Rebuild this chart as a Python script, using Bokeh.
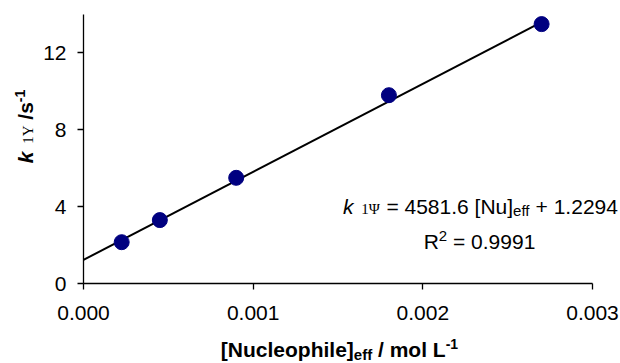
from bokeh.plotting import figure
from bokeh.models import Label, FixedTicker, Range1d
from bokeh.embed import file_html
from bokeh.resources import INLINE
import math

# ---- data ----
conc = [0.000225, 0.00045, 0.0009, 0.0018, 0.0027]
k_obs = [2.15, 3.3, 5.5, 9.8, 13.5]
slope = 4581.6
intercept = 1.2294
fit_x = [0.0, 0.0027]
fit_y = [intercept + slope * v for v in fit_x]
x_ticks = [0.0, 0.001, 0.002, 0.003]
x_tick_labels = ["0.000", "0.001", "0.002", "0.003"]
y_ticks = [0, 4, 8, 12]
x_lim = (0.0, 0.003)
y_lim = (0.0, 14.0)

# ---- layout (pixels) ----
W, H = 620, 363
AX_LEFT, AX_RIGHT, AX_TOP, AX_BOTTOM = 83, 592, 14, 283

SANS = "Liberation Sans"
SERIF = "Liberation Serif"

W_REG = {' ': 278, '.': 278, '=': 584, '+': 584, '[': 278, ']': 278, 'N': 722, 'u': 556,
         'e': 556, 'f': 278, 'R': 722, 'k': 500, '-': 333, '/': 278, 's': 500, 'L': 556,
         'm': 833, 'o': 556, 'l': 222, 'i': 222, 'c': 500, 'p': 556, 'h': 556}
W_BOLD = {' ': 278, '[': 333, ']': 333, 'N': 722, 'u': 611, 'c': 556, 'l': 278, 'e': 556,
          'o': 611, 'p': 611, 'h': 611, 'i': 278, 'f': 333, '/': 278, 'm': 889, 'L': 611,
          's': 556, 'k': 556, '-': 333}
W_SERIF = {'1': 500, 'Y': 722, 'Ψ': 780, ' ': 250}


def width(text, font, style, size):
    tot = 0
    for ch in text:
        if font == SERIF:
            w = W_SERIF.get(ch, 600)
        elif 'bold' in style:
            w = 556 if ch.isdigit() else W_BOLD.get(ch, 600)
        else:
            w = 556 if ch.isdigit() else W_REG.get(ch, 600)
        tot += w
    return tot * size / 1000.0


def rich(p, segs, cx, y0, angle=0.0):
    """Place a run of differently styled text pieces, centred on cx (along the run)."""
    items = []
    adv = 0.0
    for text, font, style, size, dy in segs:
        lead = len(text) - len(text.lstrip(' '))
        trail = len(text) - len(text.rstrip(' '))
        adv += width(' ' * lead, font, style, size)
        core = text.strip(' ')
        if core:
            items.append((adv, core, font, style, size, dy + 0.38 * size))
        adv += width(core, font, style, size) + width(' ' * trail, font, style, size)
    start = -adv / 2.0
    ca, sa = math.cos(angle), math.sin(angle)
    bx, by = (cx, y0) if angle == 0 else (y0, cx)
    for a, text, font, style, size, dy in items:
        along = start + a
        x = bx + ca * along - sa * dy
        y = by + sa * along + ca * dy
        p.add_layout(Label(x=x, y=y, x_units="screen", y_units="screen", text=text,
                           text_font=font, text_font_style=style, text_font_size=f"{size}px",
                           text_color="black", text_align="left", text_baseline="alphabetic",
                           angle=angle))


# ranges chosen so the frame fills the canvas and the axes sit at the reference pixels
xs = (x_lim[1] - x_lim[0]) / (AX_RIGHT - AX_LEFT)
ys = (y_lim[1] - y_lim[0]) / (AX_BOTTOM - AX_TOP)
x_range = Range1d(x_lim[0] - AX_LEFT * xs, x_lim[1] + (W - AX_RIGHT) * xs)
y_range = Range1d(y_lim[0] - (H - AX_BOTTOM) * ys, y_lim[1] + AX_TOP * ys)

p = figure(width=W, height=H, output_backend="svg", toolbar_location=None,
           x_range=x_range, y_range=y_range, min_border=0)
p.outline_line_color = None
p.grid.grid_line_color = None
p.background_fill_color = "white"
p.border_fill_color = "white"

p.xaxis.fixed_location = y_lim[0]
p.xaxis.bounds = x_lim
p.yaxis.fixed_location = x_lim[0]
p.yaxis.bounds = y_lim

for ax in (p.xaxis[0], p.yaxis[0]):
    ax.axis_line_color = "black"
    ax.axis_line_width = 1.3
    ax.major_tick_line_color = "black"
    ax.major_tick_line_width = 1.3
    ax.major_tick_out = 6
    ax.major_tick_in = 0
    ax.minor_tick_line_color = None
    ax.major_label_text_font = SANS
    ax.major_label_text_font_size = "21px"
    ax.major_label_text_color = "black"

p.xaxis.ticker = FixedTicker(ticks=x_ticks)
p.xaxis.major_label_overrides = {t: s for t, s in zip(x_ticks, x_tick_labels)}
p.xaxis.major_label_standoff = 16
p.yaxis.ticker = FixedTicker(ticks=y_ticks)
p.yaxis.major_label_standoff = 11

p.line(fit_x, fit_y, line_color="black", line_width=2)
p.scatter(conc, k_obs, size=15, fill_color="#000080", line_color="#000080")

F = 21
S = 15
SS = 15
# equation (screen y measured from the bottom of the canvas)
rich(p, [("k", SANS, "italic", F, 0), (" ", SANS, "normal", 14, 0), ("1Ψ", SERIF, "normal", SS, 0),
         (" = 4581.6 [Nu]", SANS, "normal", F, 0), ("eff", SANS, "normal", S, -2),
         (" + 1.2294", SANS, "normal", F, 0)], 480, H - 214)
rich(p, [("R", SANS, "normal", F, 0), ("2", SANS, "normal", S, 8),
         (" = 0.9991", SANS, "normal", F, 0)], 479, H - 249)
# x axis title
rich(p, [("[Nucleophile]", SANS, "bold", F, 0), ("eff", SANS, "bold", S, -3),
         (" / mol L", SANS, "bold", F, 0), ("-1", SANS, "bold", 14, 8)], 339, H - 357)
# y axis title (rotated, reads bottom to top)
rich(p, [("k", SANS, "bold italic", F, 0), (" ", SANS, "bold", 14, 0), ("1Y", SERIF, "normal", SS, 0),
         (" /s", SANS, "bold", F, 0), ("-1", SANS, "bold", 14, 8)], H - 126, 33, angle=math.pi / 2)

open("out.html", "w").write(file_html(p, INLINE))
